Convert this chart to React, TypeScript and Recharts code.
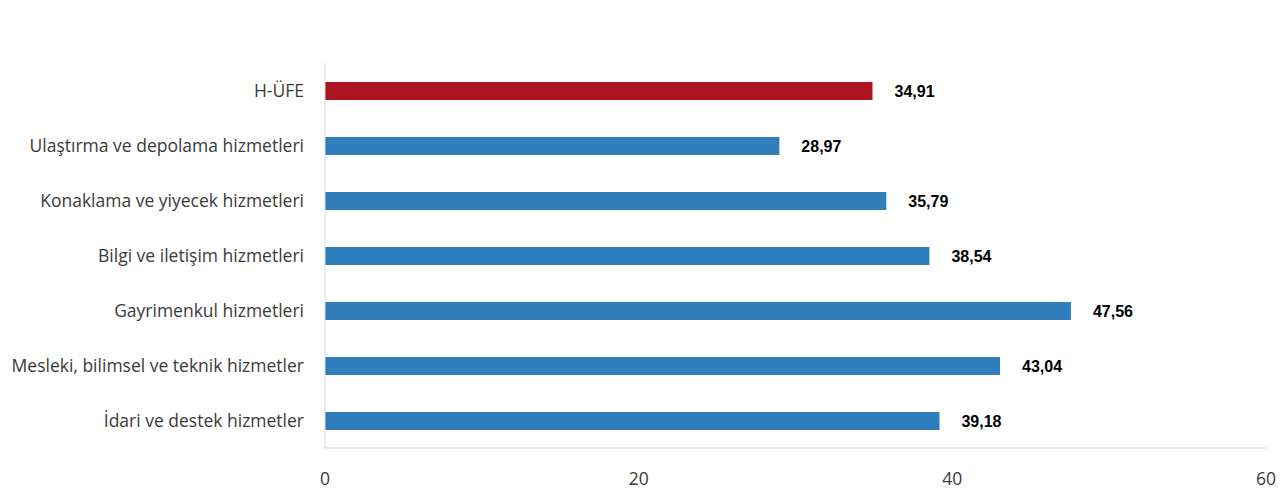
import React from "react";
import { BarChart, Bar, XAxis, YAxis, Cell, LabelList } from "recharts";

const categories = [
  "H-ÜFE",
  "Ulaştırma ve depolama hizmetleri",
  "Konaklama ve yiyecek hizmetleri",
  "Bilgi ve iletişim hizmetleri",
  "Gayrimenkul hizmetleri",
  "Mesleki, bilimsel ve teknik hizmetler",
  "İdari ve destek hizmetler",
];
const values = [34.91, 28.97, 35.79, 38.54, 47.56, 43.04, 39.18];
const barColors = ["#AB1420", "#2F7DBA", "#2F7DBA", "#2F7DBA", "#2F7DBA", "#2F7DBA", "#2F7DBA"];
const xTicks = [0, 20, 40, 60];

const data = categories.map((name, i) => ({ name, value: values[i], color: barColors[i] }));

const fmt = (v: any) => Number(v).toFixed(2).replace(".", ",");

const YTick = (props: any) => {
  const { x, y, payload } = props;
  return (
    <text x={x + 6} y={y} dy={6} textAnchor="end" fill="#3A3A3A" fontSize={17.5} fontFamily="'Open Sans', sans-serif">
      {payload.value}
    </text>
  );
};

export default function App() {
  return (
    <div style={{ position: "absolute", left: 0, top: 0, background: "#fff" }}>
      <BarChart
        width={1280}
        height={493}
        data={data}
        layout="vertical"
        margin={{ top: 63, right: 14, bottom: 0, left: 0 }}
        barCategoryGap="33%"
      >
        <XAxis
          type="number"
          domain={[0, 60]}
          ticks={xTicks}
          axisLine={{ stroke: "#D9D9D9" }}
          tickLine={false}
          tick={{ fill: "#3A3A3A", fontSize: 17.5, fontFamily: "'Open Sans', sans-serif" }}
          tickMargin={19}
          height={45}
          interval={0}
        />
        <YAxis
          type="category"
          dataKey="name"
          width={325}
          axisLine={{ stroke: "#D9D9D9" }}
          tickLine={false}
          tick={<YTick />}
          tickMargin={21}
          interval={0}
        />
        <Bar dataKey="value" isAnimationActive={false} barSize={18}>
          {data.map((d, i) => (
            <Cell key={i} fill={d.color} />
          ))}
          <LabelList
            dataKey="value"
            position="right"
            offset={22}
            formatter={fmt}
            fill="#000"
            fontSize={16}
            fontWeight="bold"
            fontFamily="'Liberation Sans', Arial, sans-serif"
          />
        </Bar>
      </BarChart>
    </div>
  );
}
